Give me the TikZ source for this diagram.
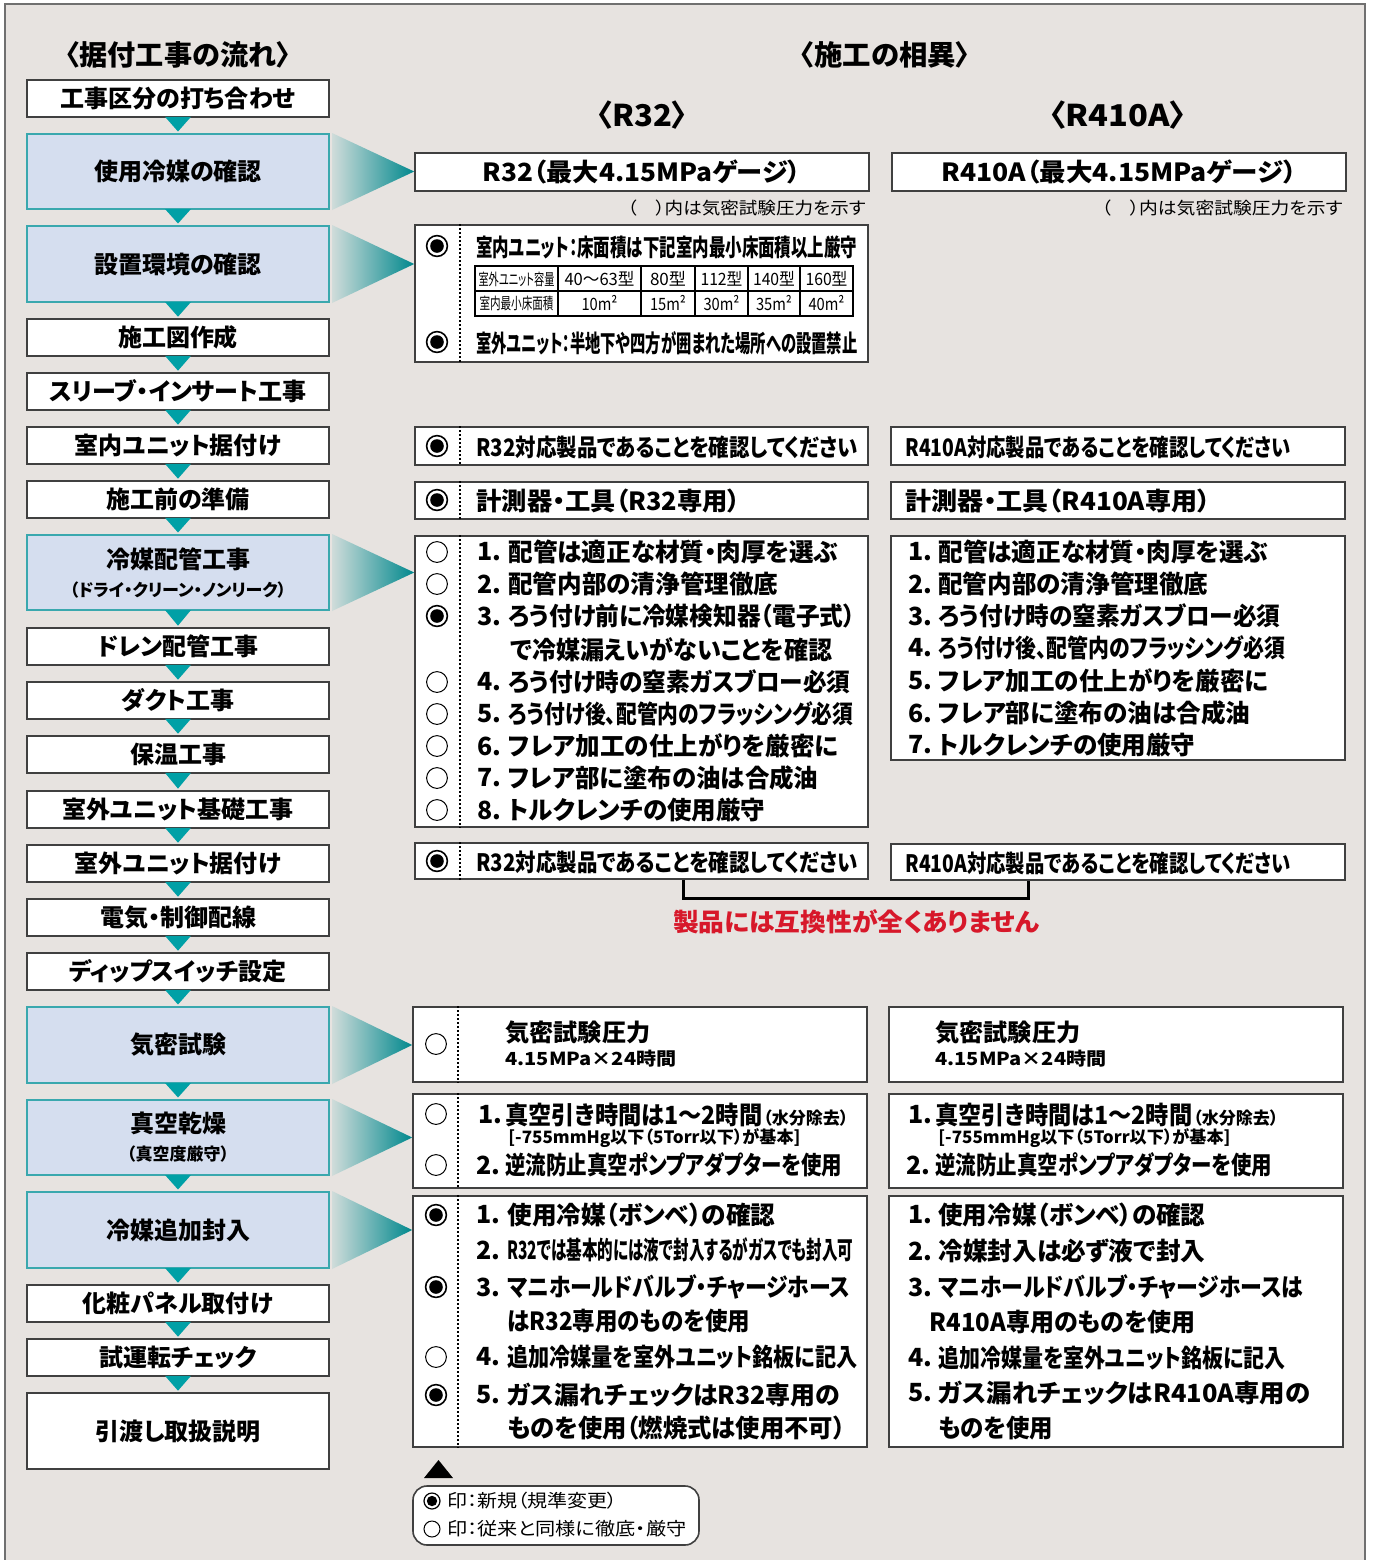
\documentclass[tikz,border=0pt]{standalone}
\usepackage{fontspec}
\setmainfont{Noto Sans CJK JP}[RawFeature=+palt]
\usepackage{graphicx}
\usetikzlibrary{calc,fit,positioning}
\definecolor{cBg}{HTML}{E7E3E0}
\definecolor{cFrame}{HTML}{707070}
\definecolor{cKey}{HTML}{D5DEEF}
\definecolor{cKeyLine}{HTML}{3AA8AE}
\definecolor{cTeal}{HTML}{00A0A6}
\definecolor{cRed}{HTML}{D7182A}
\newdimen\px \px=0.5pt
\newcommand\fitw[2]{\resizebox{#1\px}{\height}{#2}}
\newcommand\fsz[1]{\fontsize{#1}{#1}\selectfont}
\newcommand\onmark[1]{\draw[line width=0.8pt,fill=white] (#1) circle[radius=5.2pt]; \fill (#1) circle[radius=3.4pt];}
\newcommand\offmark[1]{\draw[line width=0.5pt,fill=white] (#1) circle[radius=5.2pt];}

\begin{document}
\begin{tikzpicture}[x=0.5pt,y=-0.5pt,
  plainbox/.style={draw=black!75,fill=white,line width=0.8pt,minimum width=151pt,
                   inner sep=0pt,align=center,font=\fsz{12pt}\bfseries},
  keybox/.style={plainbox,draw=cKeyLine,fill=cKey,line width=1pt},
  rbox/.style={draw=black!75,fill=white,line width=0.8pt,inner sep=0pt},
  dotline/.style={line width=0.9pt,dash pattern=on 0.9pt off 1.1pt},
  item/.style={anchor=west,inner sep=0pt,font=\fsz{12.5pt}\bfseries},
  small/.style={anchor=west,inner sep=0pt,font=\fsz{9pt}\bfseries},
  cell/.style={inner sep=0pt,font=\fsz{8.5pt}},
  note/.style={anchor=east,inner sep=0pt,font=\fsz{8.5pt}},
  title/.style={inner sep=0pt,font=\fsz{14pt}\bfseries}]
\useasboundingbox (0,0) rectangle (1373,1560);

% panel
\fill[cBg] (5,4) rectangle (1365,1570);
\draw[cFrame,line width=1.2pt] (5,1570) -- (5,4) -- (1365,4) -- (1365,1570);

% titles
\node[title] (tflow) at (178,55) {\fitw{225}{〈据付工事の流れ〉}};
\node[title] (tdiff) at (885,55) {\fitw{170}{〈施工の相異〉}};
\node[title,font=\fsz{15pt}\bfseries] (t32) at (642,115) {\fitw{91}{〈R32〉}};
\node[title,font=\fsz{15pt}\bfseries] (t410) at (1118,115) {\fitw{137}{〈R410A〉}};

% work flow: number/centre y/height/style/label
\foreach \i/\y/\h/\kind/\txt in {%
  1/98.5/18.5/plainbox/{工事区分の打ち合わせ},
  2/171.5/37.5/keybox/{使用冷媒の確認},
  3/264/38/keybox/{設置環境の確認},
  4/337.5/18.5/plainbox/{施工図作成},
  5/391.5/18.5/plainbox/{スリーブ・インサート工事},
  6/445.5/18.5/plainbox/{室内ユニット据付け},
  7/499.5/18.5/plainbox/{施工前の準備},
  8/572.5/37.5/keybox/{冷媒配管工事\\[2pt]{\fsz{8.5pt}（ドライ・クリーン・ノンリーク）}},
  9/646.5/18.5/plainbox/{ドレン配管工事},
  10/700.5/18.5/plainbox/{ダクト工事},
  11/754.5/18.5/plainbox/{保温工事},
  12/809.5/18.5/plainbox/{室外ユニット基礎工事},
  13/863.5/18.5/plainbox/{室外ユニット据付け},
  14/917.5/18.5/plainbox/{電気・制御配線},
  15/971.5/18.5/plainbox/{ディップスイッチ設定},
  16/1045/38/keybox/{気密試験},
  17/1137.5/37.5/keybox/{真空乾燥\\[2pt]{\fsz{8.5pt}（真空度厳守）}},
  18/1230/38/keybox/{冷媒追加封入},
  19/1303.5/18.5/plainbox/{化粧パネル取付け},
  20/1357.5/18.5/plainbox/{試運転チェック},
  21/1431/38/plainbox/{引渡し取扱説明}}
{
  \node[\kind,minimum height=\h pt] (s\i) at (178,\y) {\txt};
}
\foreach \i [count=\j from 2] in {1,...,20}
  \fill[cTeal] ($(s\i.south)+(-13,-1)$) -- ($(s\i.south)+(13,-1)$)
    -- ($(s\j.north)+(0,-1.5)$) -- cycle;

% comparison boxes (r = R32, q = R410A)
\node[rbox,fit={(415,153) (869,191)}] (r1) {};
\node[rbox,fit={(892,153) (1346,191)}] (q1) {};
\node[rbox,fit={(415,225) (868,362)}] (r2) {};
\node[rbox,fit={(415,427) (868,465)}] (r3) {};
\node[rbox,fit={(891,427) (1345,465)}] (q3) {};
\node[rbox,fit={(415,482) (868,519)}] (r4) {};
\node[rbox,fit={(891,482) (1345,519)}] (q4) {};
\node[rbox,fit={(415,536) (868,827)}] (r5) {};
\node[rbox,fit={(891,536) (1345,760)}] (q5) {};
\node[rbox,fit={(415,843) (868,879)}] (r6) {};
\node[rbox,fit={(891,844) (1345,880)}] (q6) {};
\node[rbox,fit={(413,1007) (867,1082)}] (r7) {};
\node[rbox,fit={(889,1007) (1343,1082)}] (q7) {};
\node[rbox,fit={(413,1094) (867,1188)}] (r8) {};
\node[rbox,fit={(889,1094) (1343,1188)}] (q8) {};
\node[rbox,fit={(413,1196) (867,1447)}] (r9) {};
\node[rbox,fit={(889,1196) (1343,1447)}] (q9) {};

% shaded pointers
\foreach \a/\b in {2/r1,3/r2,8/r5,16/r7,17/r8,18/r9}
  \shade[left color=cBg!90!cTeal,right color=cTeal!85!black]
    ($(s\a.north east)+(2,0)$) -- ($(s\a.south east)+(2,0)$)
    -- (s\a.east -| \b.west) -- cycle;

\foreach \b in {r2,r3,r4,r5,r6,r7,r8,r9}
  \draw[dotline] ($(\b.north west)+(46,0)$) -- ($(\b.south west)+(46,0)$);

% refrigerant
\node[item,anchor=center] at (r1) {\fitw{318}{R32（最大4.15MPaゲージ）}};
\node[item,anchor=center] at (q1) {\fitw{355}{R410A（最大4.15MPaゲージ）}};
\node[note] at (866,208) {\fitw{238}{（　）内は気密試験圧力を示す}};
\node[note] at (1343,208) {\fitw{241}{（　）内は気密試験圧力を示す}};

% installation place
\onmark{437,246}
\onmark{437,342}
\node[item,font=\fsz{12pt}\bfseries] at (476,247) {\fitw{381}{室内ユニット：床面積は下記室内最小床面積以上厳守}};
\node[item,font=\fsz{12pt}\bfseries] at (476,343) {\fitw{381}{室外ユニット：半地下や四方が囲まれた場所への設置禁止}};
\draw[line width=0.6pt] (475,266) rectangle (853,316);
\draw[line width=0.6pt] (475,291) -- (853,291);
\foreach \x in {558,641,695,748,800}
  \draw[line width=0.6pt] (\x,266) -- (\x,316);
\node[inner sep=0pt,font=\fsz{8pt}] at (516.5,279) {\fitw{76}{室外ユニット容量}};
\node[inner sep=0pt,font=\fsz{8pt}] at (516.5,303) {\fitw{74}{室内最小床面積}};
\foreach \x/\cap/\wc/\area/\wa in {599.5/{40～63型}/70/{10m²}/36,668/{80型}/36/{15m²}/36,
    721.5/{112型}/42/{30m²}/36,774/{140型}/42/{35m²}/36,826.5/{160型}/42/{40m²}/36}
{
  \node[cell] at (\x,279) {\fitw{\wc}{\cap}};
  \node[cell] at (\x,303) {\fitw{\wa}{\area}};
}

% product / tools
\onmark{437,446}
\onmark{437,500}
\onmark{437,861}
\node[item,font=\fsz{12pt}\bfseries] at (476,447) {\fitw{381}{R32対応製品であることを確認してください}};
\node[item,font=\fsz{12pt}\bfseries] at (905,447) {\fitw{385}{R410A対応製品であることを確認してください}};
\node[item] at (476,501) {\fitw{264}{計測器・工具（R32専用）}};
\node[item] at (905,501) {\fitw{305}{計測器・工具（R410A専用）}};
\node[item,font=\fsz{12pt}\bfseries] at (476,862) {\fitw{381}{R32対応製品であることを確認してください}};
\node[item,font=\fsz{12pt}\bfseries] at (905,863) {\fitw{385}{R410A対応製品であることを確認してください}};

% piping
\foreach \y/\n/\k/\w/\t in {%
  552/1/0/330/{配管は適正な材質・肉厚を選ぶ},
  584/2/0/270/{配管内部の清浄管理徹底},
  616/3/1/347/{ろう付け前に冷媒検知器（電子式）},
  682/4/0/342/{ろう付け時の窒素ガスブロー必須},
  714/5/0/345/{ろう付け後、配管内のフラッシング必須},
  746/6/0/330/{フレア加工の仕上がりを厳密に},
  778/7/0/310/{フレア部に塗布の油は合成油},
  810/8/0/257/{トルクレンチの使用厳守}}
{
  \ifnum\k=1 \onmark{437,\y} \else \offmark{437,\y} \fi
  \node[item] at (477,\y) {\n.};
  \node[item] at (508,\y) {\fitw{\w}{\t}};
}
\node[item] at (510,650) {\fitw{322}{で冷媒漏えいがないことを確認}};
\foreach \y/\n/\w/\t in {%
  552/1/330/{配管は適正な材質・肉厚を選ぶ},
  584/2/270/{配管内部の清浄管理徹底},
  616/3/342/{ろう付け時の窒素ガスブロー必須},
  648/4/347/{ろう付け後、配管内のフラッシング必須},
  681/5/330/{フレア加工の仕上がりを厳密に},
  713/6/312/{フレア部に塗布の油は合成油},
  745/7/257/{トルクレンチの使用厳守}}
{
  \node[item] at (908,\y) {\n.};
  \node[item] at (938,\y) {\fitw{\w}{\t}};
}

% no compatibility
\coordinate (bl) at (683,898);
\coordinate (br) at (1028,898);
\draw[line width=1.5pt] (bl |- r6.south) -- (bl) -- (br) -- (br |- q6.south);
\node[inner sep=0pt,font=\fsz{12.5pt}\bfseries,text=cRed] (warn) at (856,922)
  {\fitw{366}{製品には互換性が全くありません}};

% airtight test
\offmark{436,1044}
\foreach \x in {505,935}
{
  \node[item,font=\fsz{12pt}\bfseries] at (\x,1033) {\fitw{145}{気密試験圧力}};
  \node[small] at (\x,1059) {\fitw{171}{4.15MPa×24時間}};
}

% vacuum drying
\offmark{436,1114}
\offmark{436,1165}
\foreach \d in {0,430}
{
  \node[item] at (478+\d,1115) {1.};
  \node[item] at (505+\d,1115) {\fitw{257}{真空引き時間は1～2時間}};
  \node[small,font=\fsz{8.5pt}\bfseries] at (763+\d,1118) {\fitw{85}{（水分除去）}};
  \node[small,font=\fsz{8.5pt}\bfseries] at (508+\d,1138) {\fitw{292}{[-755mmHg以下（5Torr以下）が基本]}};
  \node[item] at (476+\d,1165) {2.};
  \node[item] at (505+\d,1165) {\fitw{337}{逆流防止真空ポンプアダプターを使用}};
}

% additional charge
\foreach \y/\n/\k/\w/\t in {%
  1215/1/1/268/{使用冷媒（ボンベ）の確認},
  1250/2/9/346/{R32では基本的には液で封入するがガスでも封入可},
  1287/3/1/343/{マニホールドバルブ・チャージホース},
  1357/4/0/350/{追加冷媒量を室外ユニット銘板に記入},
  1395/5/1/333/{ガス漏れチェックはR32専用の}}
{
  \ifnum\k=1 \onmark{436,\y} \fi
  \ifnum\k=0 \offmark{436,\y} \fi
  \node[item] at (476,\y) {\n.};
  \node[item] at (507,\y) {\fitw{\w}{\t}};
}
\node[item] at (507,1321) {\fitw{243}{はR32専用のものを使用}};
\node[item] at (507,1428) {\fitw{338}{ものを使用（燃焼式は使用不可）}};
\foreach \y/\n/\w/\t in {%
  1215/1/267/{使用冷媒（ボンベ）の確認},
  1251/2/267/{冷媒封入は必ず液で封入},
  1287/3/365/{マニホールドバルブ・チャージホースは},
  1358/4/347/{追加冷媒量を室外ユニット銘板に記入},
  1393/5/372/{ガス漏れチェックはR410A専用の}}
{
  \node[item] at (908,\y) {\n.};
  \node[item] at (938,\y) {\fitw{\w}{\t}};
}
\node[item] at (929,1322) {\fitw{266}{R410A専用のものを使用}};
\node[item] at (938,1428) {\fitw{115}{ものを使用}};

% legend
\fill (424,1478) -- (453,1478) -- (438.5,1460) -- cycle;
\node[draw=black!75,fill=white,line width=0.8pt,rounded corners=7pt,inner sep=0pt,
      fit={(413,1486) (699,1545)}] (key) {};
\draw[line width=0.6pt] (432,1501) circle[radius=4pt];
\fill (432,1501) circle[radius=2.6pt];
\draw[line width=0.5pt] (432,1529) circle[radius=4pt];
\node[anchor=west,inner sep=0pt,font=\fsz{9pt}] at (447,1501) {\fitw{170}{印：新規（規準変更）}};
\node[anchor=west,inner sep=0pt,font=\fsz{9pt}] at (447,1529) {\fitw{239}{印：従来と同様に徹底・厳守}};
\end{tikzpicture}
\end{document}
